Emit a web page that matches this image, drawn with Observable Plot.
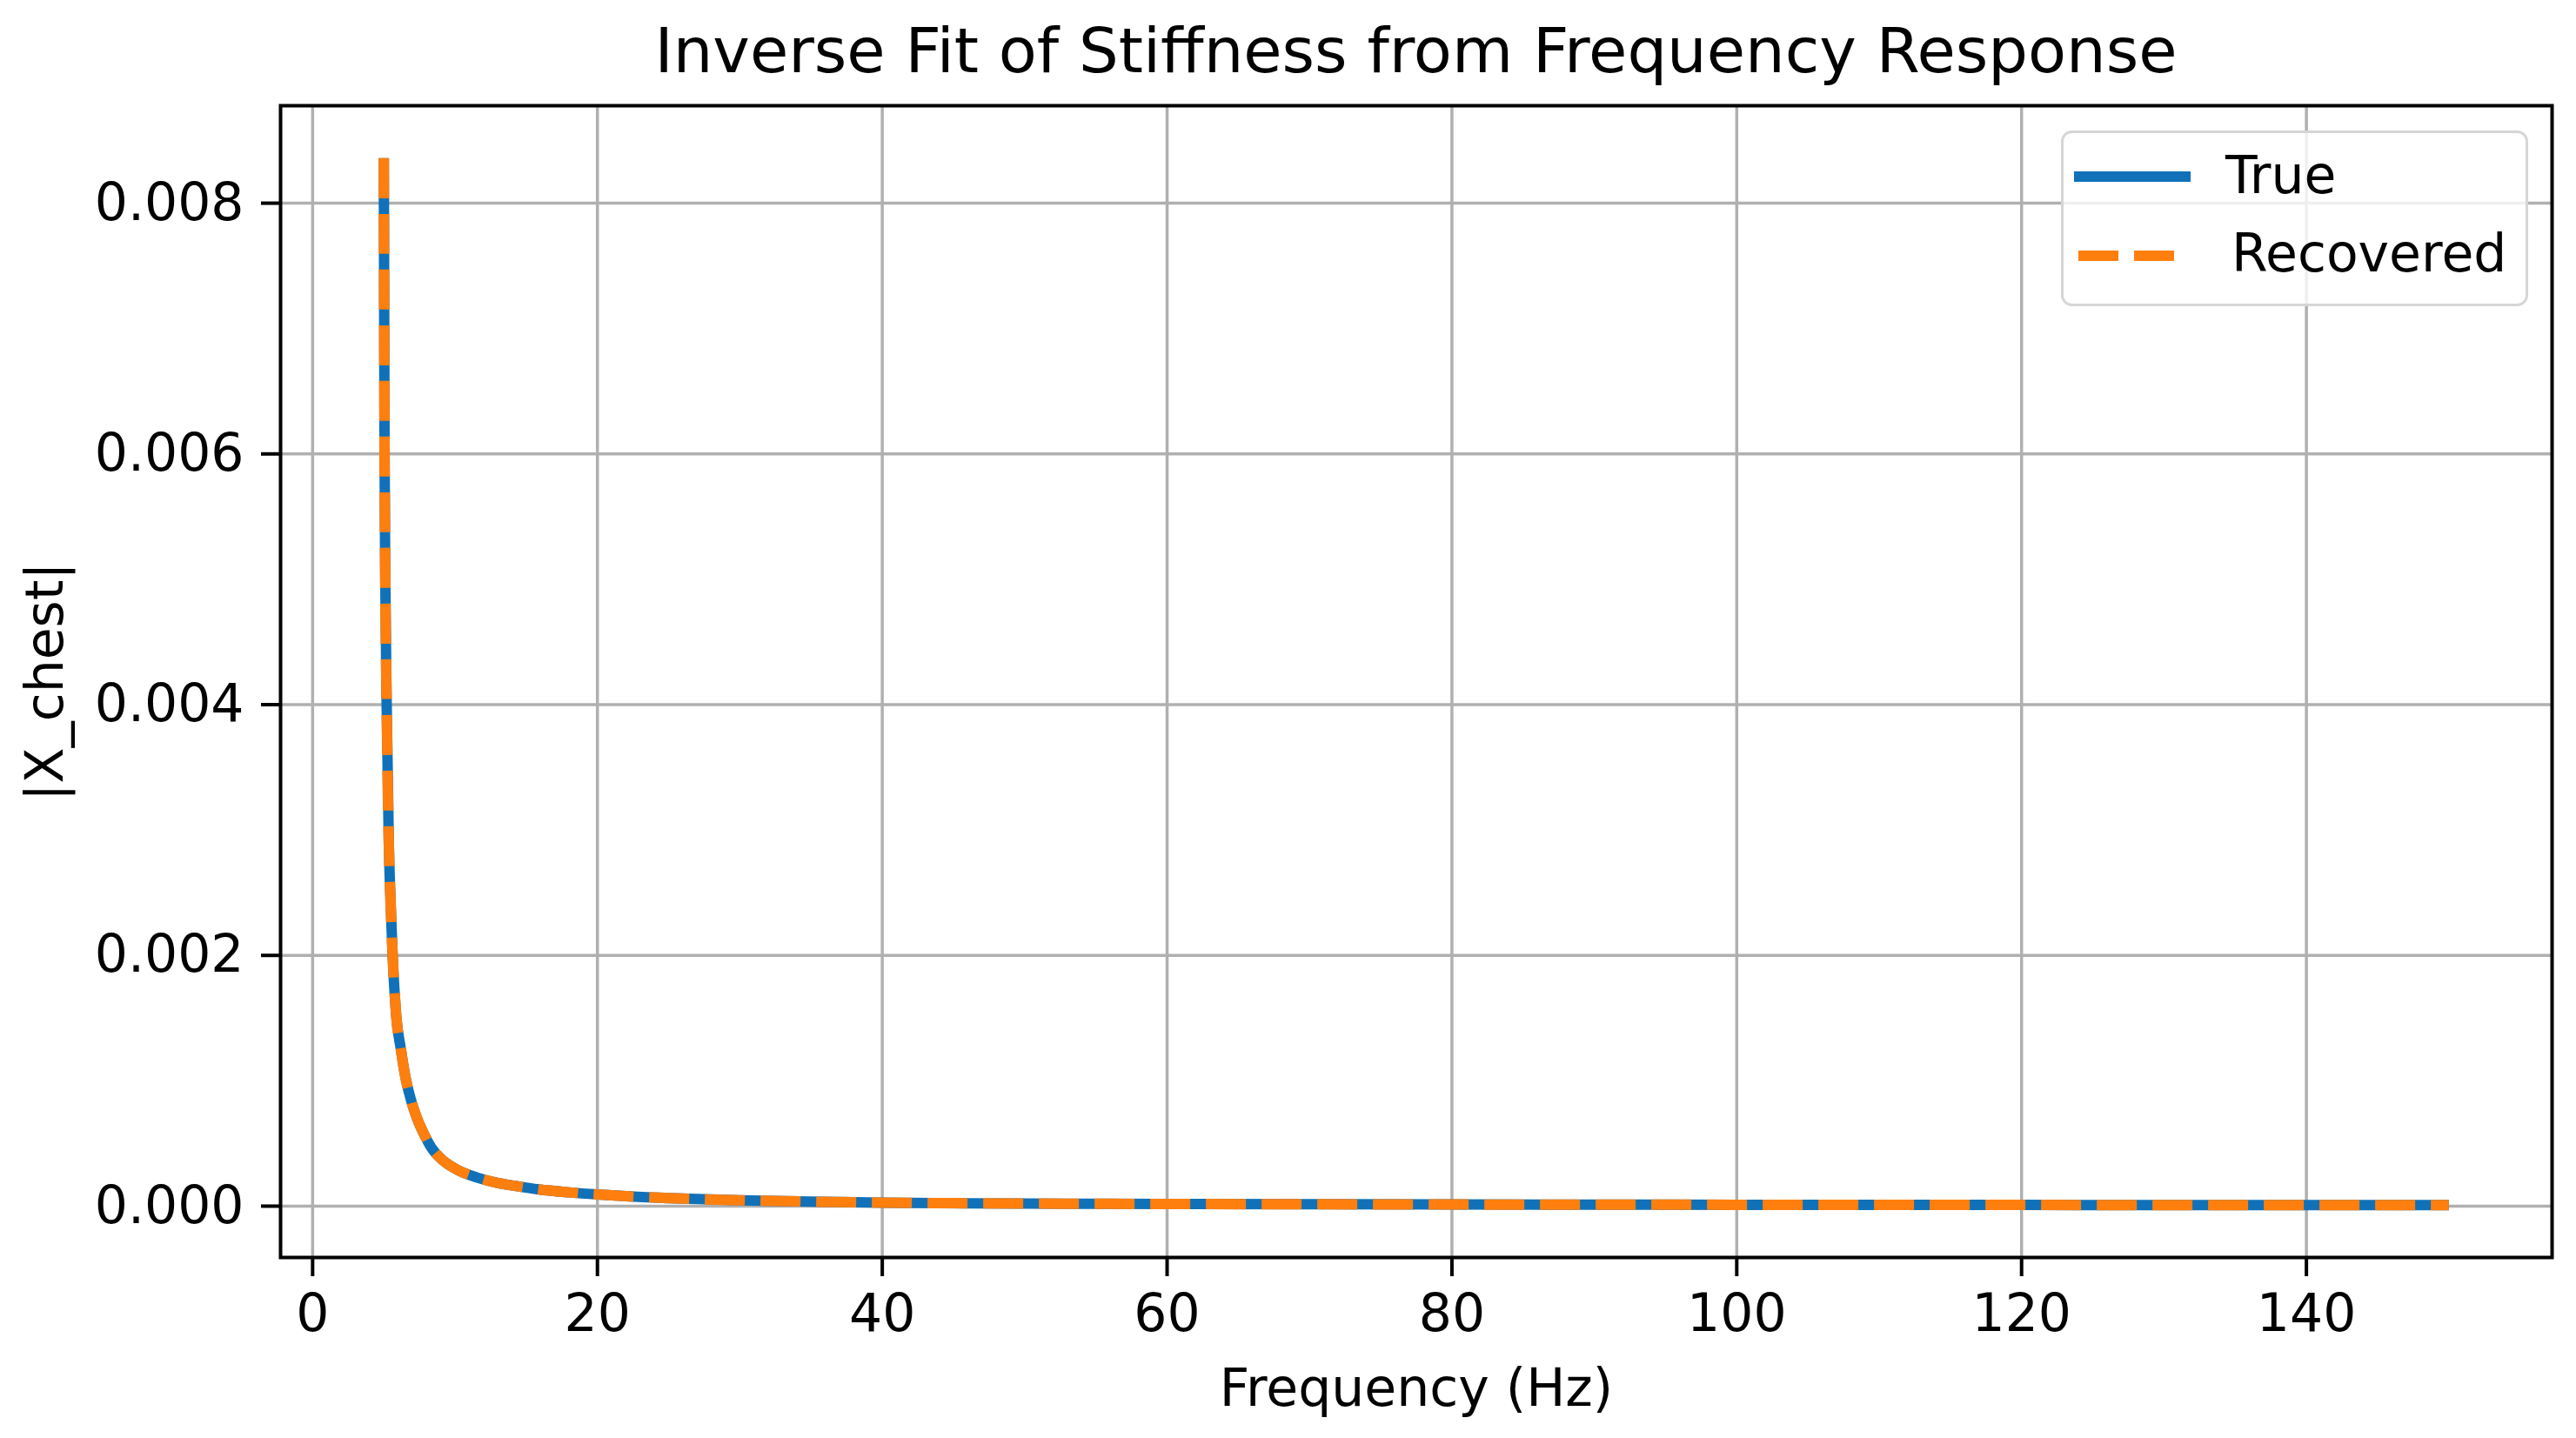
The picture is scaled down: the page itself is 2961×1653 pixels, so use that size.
<!DOCTYPE html>
<html>
<head>
<meta charset="utf-8">
<script src="https://cdn.jsdelivr.net/npm/d3@7"></script>
<script src="https://cdn.jsdelivr.net/npm/@observablehq/plot@0.6"></script>
<style>
  html, body { margin: 0; padding: 0; background: #ffffff; }
  #wrap { position: relative; width: 2961px; height: 1653px; font-family: "DejaVu Sans", sans-serif; color: #000; overflow: hidden; }
  #title { margin-left: 322px; width: 2611px; height: 116px; line-height: 116px; font-size: 72px; text-align: center; white-space: nowrap; }
  #chart svg { display: block; }
  #legend { position: absolute; left: 2369px; top: 150px; width: 540px; height: 205px; }
</style>
</head>
<body>
<div id="wrap">
  <div id="title">Inverse Fit of Stiffness from Frequency Response</div>
  <div id="chart"></div>
  <div id="legend"></div>
</div>
<script>
// Frequency (Hz) sample points
const freqHz = [5.0, 5.05, 5.1, 5.2, 5.35, 5.5, 5.62, 5.87, 6.2, 6.48, 6.9, 7.3, 7.8, 8.32, 9.2, 10.16, 11.5, 12.8, 14.3, 15.9, 18, 20, 22, 25, 30, 35, 40, 50, 60, 70, 80, 90, 100, 110, 120, 130, 140, 150];
// |X_chest| for the true stiffness
const trueAmp = [0.00836, 0.0061, 0.00505, 0.0040, 0.0029, 0.00235, 0.0020, 0.00152, 0.00125, 0.00105, 0.00085, 0.00071, 0.00058, 0.00047, 0.00036, 0.00029, 0.00023, 0.00019, 0.00016, 0.000133, 0.00011, 0.000093, 0.000079, 0.000064, 0.000047, 0.000036, 0.000028, 0.000021, 0.000017, 0.000015, 0.000013, 0.000012, 0.000011, 0.00001, 0.0000095, 0.000009, 0.0000085, 0.000008];
// |X_chest| for the recovered stiffness (overlaps the true curve)
const recoveredAmp = [0.00836, 0.0061, 0.00505, 0.0040, 0.0029, 0.00235, 0.0020, 0.00152, 0.00125, 0.00105, 0.00085, 0.00071, 0.00058, 0.00047, 0.00036, 0.00029, 0.00023, 0.00019, 0.00016, 0.000133, 0.00011, 0.000093, 0.000079, 0.000064, 0.000047, 0.000036, 0.000028, 0.000021, 0.000017, 0.000015, 0.000013, 0.000012, 0.000011, 0.00001, 0.0000095, 0.000009, 0.0000085, 0.000008];
const xTicks = [0, 20, 40, 60, 80, 100, 120, 140];
const yTicks = [0, 0.002, 0.004, 0.006, 0.008];
const seriesNames = ["True", "Recovered"];
const seriesColors = ["#1071b8", "#ff7f0e"];

const trueData = freqHz.map((f, i) => ({f, v: trueAmp[i]}));
const recData = freqHz.map((f, i) => ({f, v: recoveredAmp[i]}));

// matplotlib-style 5% margins
const xMin = d3.min(freqHz), xMax = d3.max(freqHz);
const allV = trueAmp.concat(recoveredAmp);
const yMin = d3.min(allV), yMax = d3.max(allV);
const xPad = (xMax - xMin) * 0.05, yPad = (yMax - yMin) * 0.05;

const gridColor = "#b0b0b0";

const chart = Plot.plot({
  width: 2961,
  height: 1537,
  marginTop: 5,
  marginBottom: 208,
  marginLeft: 322,
  marginRight: 28,
  style: {fontFamily: "DejaVu Sans", fontSize: "60px", background: "#ffffff", color: "#000"},
  x: {domain: [xMin - xPad, xMax + xPad]},
  y: {domain: [yMin - yPad, yMax + yPad]},
  marks: [
    Plot.gridX(xTicks, {stroke: gridColor, strokeOpacity: 1, strokeWidth: 3.5}),
    Plot.gridY(yTicks, {stroke: gridColor, strokeOpacity: 1, strokeWidth: 3.5}),
    Plot.line(trueData, {x: "f", y: "v", stroke: seriesColors[0], strokeWidth: 12, curve: "monotone-x", strokeLinecap: "butt", strokeLinejoin: "round"}),
    Plot.line(recData, {x: "f", y: "v", stroke: seriesColors[1], strokeWidth: 12, curve: "monotone-x", strokeLinecap: "butt", strokeLinejoin: "round", strokeDasharray: "46,18"}),
    Plot.axisX(xTicks, {tickSize: 22, tickPadding: 20, strokeWidth: 4, fontSize: 60, label: "Frequency (Hz)", labelAnchor: "center", labelArrow: "none", labelOffset: 170}),
    Plot.axisY(yTicks, {tickSize: 22, tickPadding: 20, strokeWidth: 4, fontSize: 60, tickFormat: d3.format(".3f"), label: "|X_chest|", labelAnchor: "center", labelArrow: "none", labelOffset: 293}),
    Plot.frame({stroke: "#000", strokeWidth: 4})
  ]
});
document.getElementById("chart").appendChild(chart);

// Legend (matplotlib-style box, upper right)
const lg = d3.select("#legend").append("svg").attr("width", 540).attr("height", 205)
  .style("font-family", "DejaVu Sans").style("font-size", "60px");
lg.append("rect").attr("x", 1.5).attr("y", 1.5).attr("width", 534).attr("height", 199).attr("rx", 11)
  .attr("fill", "#fff").attr("fill-opacity", 0.8).attr("stroke", "#d6d6d6").attr("stroke-width", 3);
const rows = [
  {name: seriesNames[0], color: seriesColors[0], x1: 15, x2: 149, y: 53, tx: 189, ty: 72, dash: null},
  {name: seriesNames[1], color: seriesColors[1], x1: 20, x2: 130, y: 144, tx: 196, ty: 162, dash: "46,18"}
];
rows.forEach(r => {
  const l = lg.append("line").attr("x1", r.x1).attr("x2", r.x2).attr("y1", r.y).attr("y2", r.y)
    .attr("stroke", r.color).attr("stroke-width", 12).attr("stroke-linecap", "butt");
  if (r.dash) l.attr("stroke-dasharray", r.dash);
  lg.append("text").attr("x", r.tx).attr("y", r.ty).attr("fill", "#000").text(r.name);
});
</script>
</body>
</html>
